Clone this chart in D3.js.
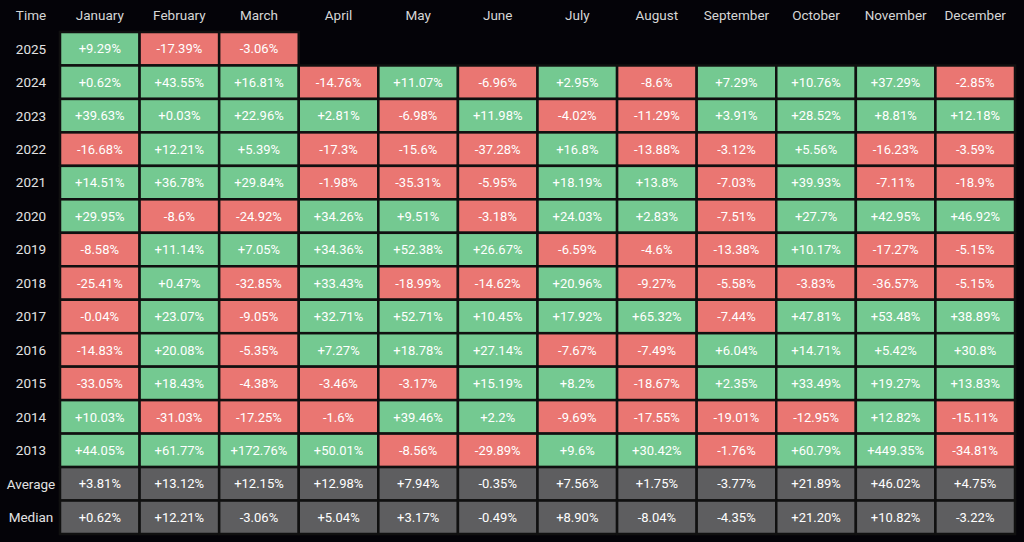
<!doctype html>
<html lang="en">

<head>
    <meta charset="utf-8">
    <title>monthly returns heatmap</title>
    <script src="https://cdn.jsdelivr.net/npm/d3@7/dist/d3.min.js"></script>
    <style>
        body {
            margin: 0;
            background: #040308;
        }

        svg {
            display: block;
        }
    </style>
</head>

<body>
    <svg></svg>
    <script>
        var width = 1024;
        var height = 542;

        var months = ["January", "February", "March", "April", "May", "June", "July",
            "August", "September", "October", "November", "December"];
        var years = ["2025", "2024", "2023", "2022", "2021", "2020", "2019", "2018",
            "2017", "2016", "2015", "2014", "2013"];

        // monthly returns in %, one array per year (null = no data yet)
        var returns = [
            [9.29, -17.39, -3.06, null, null, null, null, null, null, null, null, null],
            [0.62, 43.55, 16.81, -14.76, 11.07, -6.96, 2.95, -8.6, 7.29, 10.76, 37.29, -2.85],
            [39.63, 0.03, 22.96, 2.81, -6.98, 11.98, -4.02, -11.29, 3.91, 28.52, 8.81, 12.18],
            [-16.68, 12.21, 5.39, -17.3, -15.6, -37.28, 16.8, -13.88, -3.12, 5.56, -16.23, -3.59],
            [14.51, 36.78, 29.84, -1.98, -35.31, -5.95, 18.19, 13.8, -7.03, 39.93, -7.11, -18.9],
            [29.95, -8.6, -24.92, 34.26, 9.51, -3.18, 24.03, 2.83, -7.51, 27.7, 42.95, 46.92],
            [-8.58, 11.14, 7.05, 34.36, 52.38, 26.67, -6.59, -4.6, -13.38, 10.17, -17.27, -5.15],
            [-25.41, 0.47, -32.85, 33.43, -18.99, -14.62, 20.96, -9.27, -5.58, -3.83, -36.57, -5.15],
            [-0.04, 23.07, -9.05, 32.71, 52.71, 10.45, 17.92, 65.32, -7.44, 47.81, 53.48, 38.89],
            [-14.83, 20.08, -5.35, 7.27, 18.78, 27.14, -7.67, -7.49, 6.04, 14.71, 5.42, 30.8],
            [-33.05, 18.43, -4.38, -3.46, -3.17, 15.19, 8.2, -18.67, 2.35, 33.49, 19.27, 13.83],
            [10.03, -31.03, -17.25, -1.6, 39.46, 2.2, -9.69, -17.55, -19.01, -12.95, 12.82, -15.11],
            [44.05, 61.77, 172.76, 50.01, -8.56, -29.89, 9.6, 30.42, -1.76, 60.79, 449.35, -34.81]
        ];

        var average = [3.81, 13.12, 12.15, 12.98, 7.94, -0.35, 7.56, 1.75, -3.77, 21.89, 46.02, 4.75];
        var median = [0.62, 12.21, -3.06, 5.04, 3.17, -0.49, 8.90, -8.04, -4.35, 21.20, 10.82, -3.22];

        var rowLabels = years.concat(["Average", "Median"]);

        var green = "#74c991";
        var red = "#ea7672";
        var grey = "#5e5e60";
        var font = "Roboto, 'DejaVu Sans', sans-serif";

        // flatten into cells
        var cells = [];
        returns.forEach(function (row, r) {
            row.forEach(function (v, c) {
                if (v !== null) cells.push({ row: years[r], month: months[c], value: v, stat: false });
            });
        });
        average.forEach(function (v, c) { cells.push({ row: "Average", month: months[c], value: v, stat: true }); });
        median.forEach(function (v, c) { cells.push({ row: "Median", month: months[c], value: v, stat: true }); });

        var svg = d3.select("svg").attr("width", width).attr("height", height);

        var xScale = d3.scaleBand()
            .domain(months)
            .range([60, 1015]);

        var yScale = d3.scaleBand()
            .domain(rowLabels)
            .range([32, 534]);

        function fmt(d) {
            var s = d.stat ? d.value.toFixed(2) : String(d.value);
            return (d.value >= 0 ? "+" : "") + s + "%";
        }

        var cell = svg.selectAll("g.cell")
            .data(cells)
            .enter()
            .append("g")
            .attr("class", "cell");

        cell.append("rect")
            .attr("x", function (d) { return xScale(d.month); })
            .attr("y", function (d) { return yScale(d.row); })
            .attr("width", xScale.bandwidth())
            .attr("height", yScale.bandwidth())
            .attr("fill", function (d) { return d.stat ? grey : (d.value >= 0 ? green : red); })
            .attr("stroke", "#101010")
            .attr("stroke-width", 2.5);

        cell.append("text")
            .text(fmt)
            .attr("x", function (d) { return xScale(d.month) + xScale.bandwidth() / 2; })
            .attr("y", function (d) { return yScale(d.row) + yScale.bandwidth() / 2; })
            .attr("dy", "0.36em")
            .attr("text-anchor", "middle")
            .attr("fill", "#ffffff")
            .attr("font-family", font)
            .attr("font-size", "13px");

        // column headers
        svg.selectAll("text.month")
            .data(months)
            .enter()
            .append("text")
            .attr("class", "month")
            .text(function (d) { return d; })
            .attr("x", function (d) { return xScale(d) + xScale.bandwidth() / 2; })
            .attr("y", 15)
            .attr("dy", "0.36em")
            .attr("text-anchor", "middle")
            .attr("fill", "#d6d6d6")
            .attr("font-family", font)
            .attr("font-size", "13.5px");

        svg.append("text")
            .text("Time")
            .attr("x", 31)
            .attr("y", 15)
            .attr("dy", "0.36em")
            .attr("text-anchor", "middle")
            .attr("fill", "#d6d6d6")
            .attr("font-family", font)
            .attr("font-size", "13.5px");

        // row labels
        svg.selectAll("text.rowlabel")
            .data(rowLabels)
            .enter()
            .append("text")
            .attr("class", "rowlabel")
            .text(function (d) { return d; })
            .attr("x", 31)
            .attr("y", function (d) { return yScale(d) + yScale.bandwidth() / 2; })
            .attr("dy", "0.36em")
            .attr("text-anchor", "middle")
            .attr("fill", "#e2e2e2")
            .attr("font-family", font)
            .attr("font-size", "13.5px");
    </script>

</body>

</html>
